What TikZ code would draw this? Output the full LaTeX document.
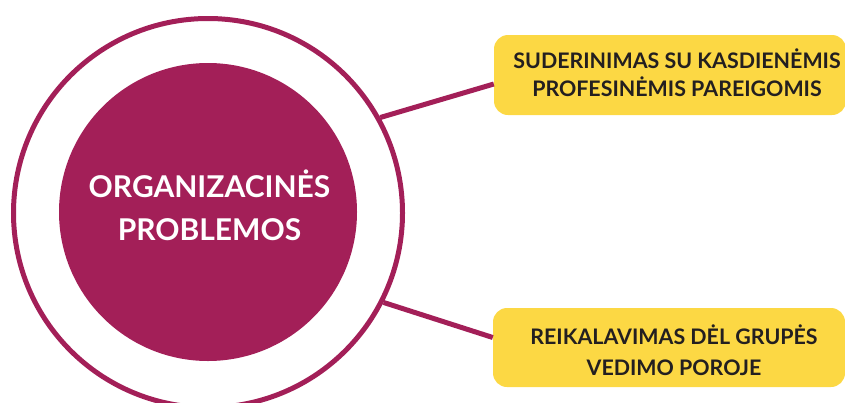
\documentclass[tikz,border=0pt]{standalone}
\usepackage{fontspec}
\setmainfont{Lato}
\definecolor{maroon}{HTML}{A31F58}
\definecolor{sun}{HTML}{FCD844}
\definecolor{ink}{HTML}{231F20}
\tikzset{
  ring/.style={circle, draw=maroon, line width=5pt, minimum size=389pt, inner sep=0pt},
  core/.style={circle, fill=maroon, minimum size=298pt, inner sep=0pt},
  coretext/.style={text=white, font=\bfseries\fontsize{30}{43}\selectfont, align=center, inner sep=0pt},
  tag/.style={rounded corners=14pt, fill=sun, inner sep=0pt, minimum width=352pt},
  tagtext/.style={text=ink, font=\bfseries\fontsize{21.4}{28}\selectfont, align=center, inner sep=0pt},
  link/.style={draw=maroon, line width=5pt}
}
\begin{document}
\begin{tikzpicture}[x=1pt, y=-1pt]
\useasboundingbox (0,0) rectangle (845,402);
\node[ring] (outer) at (208,213) {};
\node[core] (inner) at (208,212) {};
\node[coretext] (title) at (209.5,205.5) {ORGANIZACINĖS\\PROBLEMOS};
\node[tag, minimum height=80pt] (box1) at (670,75) {};
\node[tag, minimum height=79pt] (box2) at (669,347.5) {};
\node[tagtext] (t1) at (677,72.5) {SUDERINIMAS SU KASDIENĖMIS\\PROFESINĖMIS PAREIGOMIS};
\node[tagtext, font=\bfseries\fontsize{21.4}{31}\selectfont] (t2) at (674,350) {REIKALAVIMAS DĖL GRUPĖS\\VEDIMO POROJE};
\draw[link] (outer.29) -- ([yshift=-9pt]box1.west);
\draw[link] (outer.-27) -- ([yshift=10pt]box2.west);
\end{tikzpicture}
\end{document}
